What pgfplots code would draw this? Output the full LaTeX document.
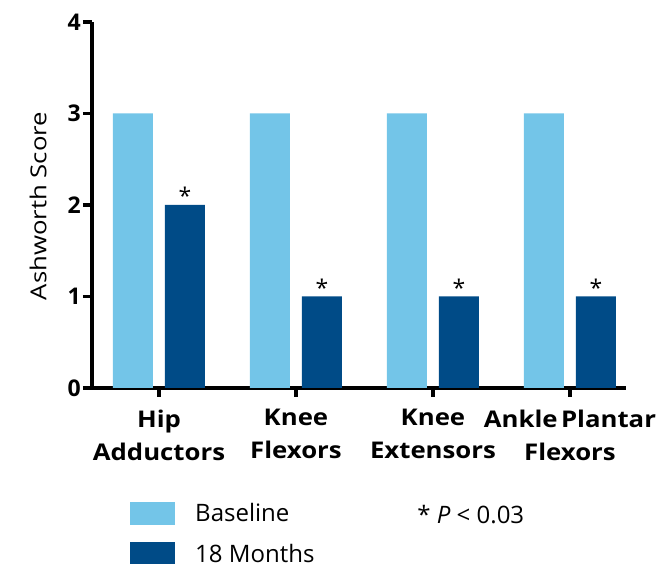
\documentclass[border=0pt]{standalone}
\usepackage{pgfplots}
\pgfplotsset{compat=1.18}
\usepackage{fontspec}
\setmainfont{Open Sans}
\definecolor{lightb}{RGB}{115,197,232}
\definecolor{darkb}{RGB}{0,75,135}
\newcommand{\fs}{\fontsize{23}{33}\selectfont}
\newcommand{\fl}{\fontsize{24}{33}\selectfont}
\begin{document}
\begin{tikzpicture}
\begin{axis}[
  scale only axis,
  width=534pt, height=366pt,
  xmin=-0.489, xmax=3.409, ymin=0, ymax=4,
  axis x line=bottom, axis y line=left,
  axis line style={-, line width=3.5pt},
  every tick/.style={black, line width=3.5pt},
  tick align=outside, major tick length=9pt,
  xtick={0,1,2,3},
  xticklabels={{Hip\\Adductors},{Knee\\Flexors},{Knee\\Extensors},{Ankle\hspace{3pt}Plantar\\Flexors}},
  xticklabel style={font=\fs\bfseries, align=center, yshift=-9pt, xscale=1.12},
  ytick={0,1,2,3,4},
  yticklabel style={font=\fs\bfseries, inner xsep=2pt},
  /pgf/number format/assume math mode=true,
  ylabel={Ashworth Score},
  ylabel style={font=\fontsize{22}{26}\selectfont, at={(axis description cs:-0.101,0.497)}, anchor=center, xscale=1.17},
  ybar, bar width=40pt,
  legend style={at={(0.0712,-0.309)}, anchor=north west, draw=none, font=\fl, row sep=17pt, column sep=18pt, legend cell align=left, inner sep=0pt},
  legend image code/.code={\fill[#1,draw=none] (0pt,-11.5pt) rectangle (45pt,11.5pt);},
  clip=false,
]
\addplot[fill=lightb, draw=none, bar shift=-26pt] coordinates {(0,3) (1,3) (2,3) (3,3)};
\addlegendentry{Baseline}
\addplot[fill=darkb, draw=none, bar shift=26pt,
  nodes near coords={*}, every node near coord/.append style={font=\fs, inner sep=0pt, black}] coordinates {(0,2) (1,1) (2,1) (3,1)};
\addlegendentry{18 Months}
\node[anchor=west, font=\fl, inner sep=0pt] at (axis description cs:0.609,-0.347) {* \textit{P} < 0.03};
\end{axis}
\pgfresetboundingbox
\path (current axis.south west) ++(-92pt,-176pt) rectangle ++(657pt,564pt);
\end{tikzpicture}
\end{document}
